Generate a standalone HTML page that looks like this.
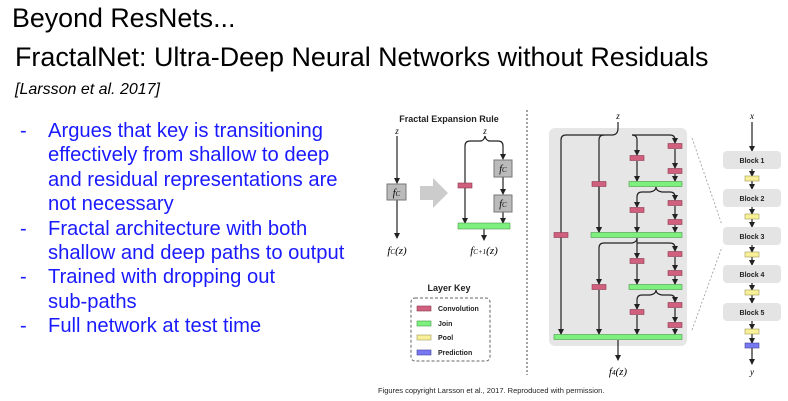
<!DOCTYPE html>
<html><head><meta charset="utf-8"><style>
body{margin:0;width:788px;height:401px;background:#fff;overflow:hidden;position:relative;font-family:"Liberation Sans",Arial,sans-serif}
.t{position:absolute;white-space:nowrap}
</style></head><body>
<div class="t" style="left:12px;top:3px;font-size:26.8px;color:#000">Beyond ResNets...</div>
<div class="t" style="left:15px;top:42px;font-size:26.9px;color:#000">FractalNet: Ultra-Deep Neural Networks without Residuals</div>
<div class="t" style="left:15px;top:81px;font-size:16px;font-style:italic;color:#000">[Larsson et al. 2017]</div>
<div class="t" style="left:20px;top:119px;font-size:20px;line-height:24.4px;color:#1a1aff">
-<br><br><br><br>-<br><br>-<br><br>-</div>
<div class="t" style="left:48px;top:119px;font-size:20.2px;line-height:24.4px;color:#1a1aff">
Argues that key is transitioning<br>effectively from shallow to deep<br>and residual representations are<br>not necessary<br>Fractal architecture with both<br>shallow and deep paths to output<br>Trained with dropping out<br>sub-paths<br>Full network at test time</div>

<svg width="788" height="401" style="position:absolute;left:0;top:0" font-family="Liberation Sans,Arial,sans-serif">
<defs><marker id="a" markerWidth="6" markerHeight="6" refX="5" refY="3" orient="auto" markerUnits="userSpaceOnUse"><path d="M0,0 L6,3 L0,6z" fill="#222"/></marker></defs>
<g stroke="#222" stroke-width="1.2" fill="none">
<line x1="397" y1="136" x2="397" y2="183" marker-end="url(#a)"/>
<line x1="397" y1="200" x2="397" y2="238" marker-end="url(#a)"/>
<path d="M465,183 V146 Q465,141 470,141 H480 Q484,141 485,136 Q486,141 490,141 H498 Q503,141 503,146 V159" marker-end="url(#a)"/>
<line x1="503" y1="177" x2="503" y2="194" marker-end="url(#a)"/>
<line x1="465" y1="188" x2="465" y2="223" marker-end="url(#a)"/>
<line x1="503" y1="212" x2="503" y2="223" marker-end="url(#a)"/>
<line x1="484" y1="229" x2="484" y2="240" marker-end="url(#a)"/>
</g>
<text x="449" y="122" font-size="9" font-weight="bold" text-anchor="middle" fill="#222">Fractal Expansion Rule</text>
<text x="397" y="134" font-size="9" font-style="italic" text-anchor="middle" font-family="Liberation Serif,serif">z</text>
<text x="485" y="134" font-size="9" font-style="italic" text-anchor="middle" font-family="Liberation Serif,serif">z</text>
<rect x="387" y="184" width="19" height="16" fill="#bbb" stroke="#777"/>
<text x="396.5" y="196" font-size="10" font-style="italic" text-anchor="middle" font-family="Liberation Serif,serif">f<tspan font-size="7">C</tspan></text>
<rect x="494" y="160" width="18" height="17" fill="#bbb" stroke="#777"/>
<text x="503" y="172" font-size="10" font-style="italic" text-anchor="middle" font-family="Liberation Serif,serif">f<tspan font-size="7">C</tspan></text>
<rect x="494" y="195" width="18" height="17" fill="#bbb" stroke="#777"/>
<text x="503" y="207" font-size="10" font-style="italic" text-anchor="middle" font-family="Liberation Serif,serif">f<tspan font-size="7">C</tspan></text>
<path d="M420,186 H433 V178 L448,193 L433,208 V200 H420z" fill="#ccc"/>
<rect x="458" y="183" width="14" height="5" fill="#d0607e" stroke="#8a3a50" stroke-width=".6"/>
<rect x="458" y="223" width="52" height="6" fill="#7ef07e" stroke="#4a9a4a" stroke-width=".6"/>
<text x="397" y="254" font-size="11" font-style="italic" text-anchor="middle" font-family="Liberation Serif,serif">f<tspan font-size="7">C</tspan>(z)</text>
<text x="484" y="254" font-size="11" font-style="italic" text-anchor="middle" font-family="Liberation Serif,serif">f<tspan font-size="7">C+1</tspan>(z)</text>
<line x1="527" y1="110" x2="527" y2="375" stroke="#444" stroke-dasharray="2,2" stroke-width="1"/>
<text x="449" y="291" font-size="9" font-weight="bold" text-anchor="middle" fill="#222">Layer Key</text>
<rect x="411" y="298" width="79" height="63" rx="4" fill="none" stroke="#666" stroke-dasharray="3,2"/>
<g font-size="7" font-weight="bold" fill="#222">
<rect x="417" y="306" width="14" height="5" fill="#d0607e" stroke="#8a3a50" stroke-width=".6"/><text x="438" y="311">Convolution</text>
<rect x="417" y="321" width="14" height="5" fill="#7ef07e" stroke="#4a9a4a" stroke-width=".6"/><text x="438" y="326">Join</text>
<rect x="417" y="335" width="14" height="5" fill="#f8f098" stroke="#a09a50" stroke-width=".6"/><text x="438" y="340">Pool</text>
<rect x="417" y="350" width="14" height="5" fill="#7878f0" stroke="#4040a0" stroke-width=".6"/><text x="438" y="355">Prediction</text>
</g>
<rect x="549" y="128" width="138" height="218" rx="6" fill="#e6e6e6"/>
<text x="618" y="119" font-size="9" font-style="italic" text-anchor="middle" font-family="Liberation Serif,serif">z</text>
<g stroke="#222" stroke-width="1.2" fill="none">
<path d="M618,122 V128 Q618,135 612,135 H566 Q561,135 561,140 V334" marker-end="url(#a)"/>
<path d="M604,135 Q599,135 599,140 V232" marker-end="url(#a)"/>
<path d="M632,135 Q637,135 637,140 V155" marker-end="url(#a)"/>
<path d="M632,135 H670 Q675,135 675,140 V143" marker-end="url(#a)"/>
<line x1="675" y1="149" x2="675" y2="168" marker-end="url(#a)"/>
<line x1="675" y1="174" x2="675" y2="181" marker-end="url(#a)"/>
<line x1="637" y1="161" x2="637" y2="181" marker-end="url(#a)"/>
<path d="M656,187 Q656,191 650,192 H642 Q637,192 637,197 V207" marker-end="url(#a)"/>
<path d="M656,187 Q656,191 662,192 H670 Q675,192 675,197 V200" marker-end="url(#a)"/>
<line x1="675" y1="206" x2="675" y2="219" marker-end="url(#a)"/>
<line x1="675" y1="225" x2="675" y2="232" marker-end="url(#a)"/>
<line x1="637" y1="213" x2="637" y2="232" marker-end="url(#a)"/>
<line x1="599" y1="187" x2="599" y2="232" marker-end="url(#a)"/>
<path d="M637,238 Q637,242 632,243 H604 Q599,243 599,248 V284" marker-end="url(#a)"/>
<line x1="637" y1="238" x2="637" y2="258" marker-end="url(#a)"/>
<path d="M637,243 H670 Q675,243 675,248 V251" marker-end="url(#a)"/>
<line x1="675" y1="257" x2="675" y2="270" marker-end="url(#a)"/>
<line x1="675" y1="276" x2="675" y2="284" marker-end="url(#a)"/>
<line x1="637" y1="264" x2="637" y2="284" marker-end="url(#a)"/>
<path d="M656,290 Q656,294 650,295 H642 Q637,295 637,300 V309" marker-end="url(#a)"/>
<path d="M656,290 Q656,294 662,295 H670 Q675,295 675,300 V302" marker-end="url(#a)"/>
<line x1="675" y1="308" x2="675" y2="322" marker-end="url(#a)"/>
<line x1="675" y1="328" x2="675" y2="334" marker-end="url(#a)"/>
<line x1="637" y1="315" x2="637" y2="334" marker-end="url(#a)"/>
<line x1="599" y1="290" x2="599" y2="334" marker-end="url(#a)"/>
<line x1="618" y1="340" x2="618" y2="360" marker-end="url(#a)"/>
</g>
<g fill="#d0607e" stroke="#8a3a50" stroke-width=".6">
<rect x="668" y="143.5" width="14" height="5"/><rect x="668" y="168.5" width="14" height="5"/>
<rect x="668" y="200.5" width="14" height="5"/><rect x="668" y="219.5" width="14" height="5"/>
<rect x="668" y="251.5" width="14" height="5"/><rect x="668" y="270.5" width="14" height="5"/>
<rect x="668" y="302.5" width="14" height="5"/><rect x="668" y="322.5" width="14" height="5"/>
<rect x="630" y="155.5" width="14" height="5"/><rect x="630" y="207.5" width="14" height="5"/>
<rect x="630" y="258.5" width="14" height="5"/><rect x="630" y="309.5" width="14" height="5"/>
<rect x="592" y="181.5" width="14" height="5"/><rect x="592" y="284.5" width="14" height="5"/>
<rect x="554" y="232.5" width="14" height="5"/>
</g>
<g fill="#7ef07e" stroke="#4a9a4a" stroke-width=".6">
<rect x="629" y="181.5" width="53" height="5"/><rect x="629" y="284.5" width="53" height="5"/>
<rect x="591" y="232.5" width="91" height="5"/><rect x="554" y="334.5" width="128" height="5"/>
</g>
<text x="618" y="375" font-size="11" font-style="italic" text-anchor="middle" font-family="Liberation Serif,serif">f<tspan font-size="7">4</tspan>(z)</text>
<g stroke="#999" stroke-dasharray="2,2" stroke-width=".8">
<line x1="692" y1="138" x2="722" y2="225"/><line x1="692" y1="330" x2="722" y2="247"/>
</g>
<text x="752" y="119" font-size="9" font-style="italic" text-anchor="middle" font-family="Liberation Serif,serif">x</text>
<g stroke="#222" stroke-width="1.2">
<line x1="752" y1="122" x2="752" y2="151" marker-end="url(#a)"/>
<line x1="752" y1="169" x2="752" y2="176" marker-end="url(#a)"/>
<line x1="752" y1="181" x2="752" y2="189" marker-end="url(#a)"/>
<line x1="752" y1="207" x2="752" y2="214" marker-end="url(#a)"/>
<line x1="752" y1="219" x2="752" y2="227" marker-end="url(#a)"/>
<line x1="752" y1="245" x2="752" y2="252" marker-end="url(#a)"/>
<line x1="752" y1="257" x2="752" y2="265" marker-end="url(#a)"/>
<line x1="752" y1="283" x2="752" y2="290" marker-end="url(#a)"/>
<line x1="752" y1="295" x2="752" y2="303" marker-end="url(#a)"/>
<line x1="752" y1="321" x2="752" y2="329" marker-end="url(#a)"/>
<line x1="752" y1="334" x2="752" y2="343" marker-end="url(#a)"/>
<line x1="752" y1="348" x2="752" y2="364" marker-end="url(#a)"/>
</g>
<g fill="#e4e4e4">
<rect x="723" y="151" width="58" height="18" rx="4"/><rect x="723" y="189" width="58" height="18" rx="4"/>
<rect x="723" y="227" width="58" height="18" rx="4"/><rect x="723" y="265" width="58" height="18" rx="4"/>
<rect x="723" y="303" width="58" height="18" rx="4"/>
</g>
<g font-size="7" font-weight="bold" text-anchor="middle" fill="#222">
<text x="752" y="163">Block 1</text><text x="752" y="201">Block 2</text><text x="752" y="239">Block 3</text><text x="752" y="277">Block 4</text><text x="752" y="315">Block 5</text>
</g>
<g fill="#f8f098" stroke="#a09a50" stroke-width=".6">
<rect x="745" y="176" width="14" height="5"/><rect x="745" y="214" width="14" height="5"/><rect x="745" y="252" width="14" height="5"/><rect x="745" y="290" width="14" height="5"/><rect x="745" y="329" width="14" height="5"/>
</g>
<rect x="745" y="343" width="14" height="5" fill="#7878f0" stroke="#4040a0" stroke-width=".6"/>
<text x="752" y="375" font-size="9" font-style="italic" text-anchor="middle" font-family="Liberation Serif,serif">y</text>
<text x="378" y="393" font-size="7.5" fill="#222">Figures copyright Larsson et al., 2017. Reproduced with permission.</text>
</svg>
</body></html>
